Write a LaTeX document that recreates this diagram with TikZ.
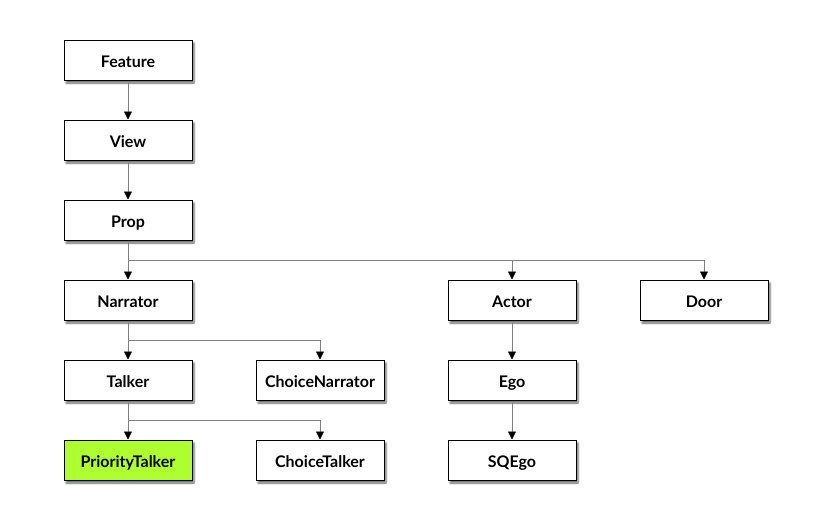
\documentclass[tikz,border=0pt]{standalone}
\usepackage{fontspec}
\setmainfont{Lato}[BoldFont={Lato Bold}]
\usetikzlibrary{arrows.meta,shadows.blur}
\definecolor{linegray}{HTML}{808080}
\definecolor{hilite}{HTML}{ADFF2F}
\tikzset{
  box/.style={draw=black, line width=1pt, fill=white, minimum width=128pt, minimum height=40pt,
    inner sep=0pt, text height=14.5pt, text depth=0pt, font=\fontsize{16pt}{18pt}\selectfont\bfseries,
    blur shadow={shadow xshift=2pt, shadow yshift=-3pt, shadow blur steps=5, shadow blur radius=2pt, shadow opacity=60}},
  hot/.style={box, fill=hilite},
  conn/.style={draw=linegray, line width=0.8pt, -{Triangle[length=8pt,width=8pt,color=black]}}
}
\begin{document}
\begin{tikzpicture}[x=1pt,y=-1pt]
\useasboundingbox (0,0) rectangle (832,520);
\node[box] (feature) at (128,60) {Feature};
\node[box] (view) at (128,140) {View};
\node[box] (prop) at (128,220) {Prop};
\node[box] (narrator) at (128,300) {Narrator};
\node[box] (actor) at (512,300) {Actor};
\node[box] (door) at (704,300) {Door};
\node[box] (talker) at (128,380) {Talker};
\node[box] (choicenarrator) at (320,380) {ChoiceNarrator};
\node[box] (ego) at (512,380) {Ego};
\node[hot] (prioritytalker) at (128,460) {PriorityTalker};
\node[box] (choicetalker) at (320,460) {ChoiceTalker};
\node[box] (sqego) at (512,460) {SQEgo};
\coordinate (b1) at (128,260);
\coordinate (b2) at (128,340);
\coordinate (b3) at (128,420);
\draw[conn] (feature) -- (view);
\draw[conn] (view) -- (prop);
\draw[conn] (prop) -- (narrator);
\draw[conn] (prop) |- (b1) -| (actor);
\draw[conn] (prop) |- (b1) -| (door);
\draw[conn] (narrator) -- (talker);
\draw[conn] (narrator) |- (b2) -| (choicenarrator);
\draw[conn] (talker) -- (prioritytalker);
\draw[conn] (talker) |- (b3) -| (choicetalker);
\draw[conn] (actor) -- (ego);
\draw[conn] (ego) -- (sqego);
\end{tikzpicture}
\end{document}
